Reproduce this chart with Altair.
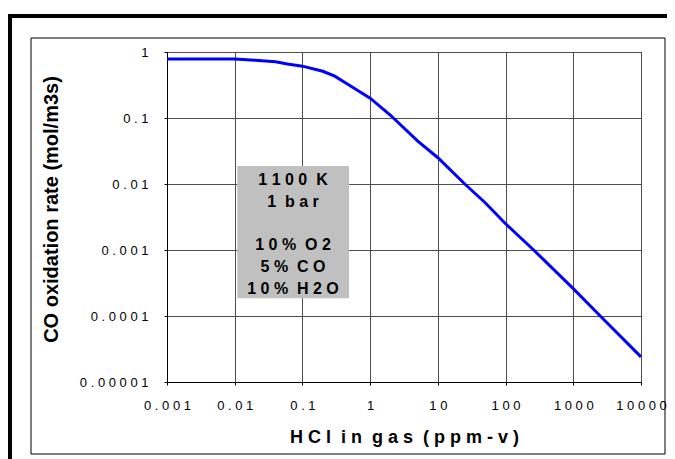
import json
import altair as alt
import pandas as pd

# ---- data ----
hcl_ppm = [0.001, 0.005, 0.01, 0.02, 0.04, 0.06, 0.1, 0.2, 0.3, 0.5, 1, 2, 5, 10,
           25, 50, 100, 260, 1000, 2500, 10000]
co_rate = [0.78, 0.78, 0.78, 0.75, 0.71, 0.66, 0.61, 0.51, 0.43, 0.31, 0.20, 0.11,
           0.045, 0.025, 0.01, 0.0052, 0.0025, 0.001, 0.00026, 0.0001, 0.000024]

x_ticks = [0.001, 0.01, 0.1, 1, 10, 100, 1000, 10000]
x_tick_labels = ["0.001", "0.01", "0.1", "1", "10", "100", "1000", "10000"]
y_ticks = [0.00001, 0.0001, 0.001, 0.01, 0.1, 1]
y_tick_labels = ["0.00001", "0.0001", "0.001", "0.01", "0.1", "1"]

box_lines = ["1100 K", "1 bar", "\u200b", "10% O2", "5% CO", "10% H2O"]
box_x = [0.0109, 0.488]
box_y = [0.01875, 0.000185]
box_text_x = 0.0726
box_text_y = 0.00966

x_title = "HCl in gas (ppm-v)"
y_title = "CO oxidation rate (mol/m3s)"

FONT = "Liberation Sans"


def spaced(s):
    return "\u00a0 ".join(" ".join(w) for w in s.split(" "))


line_df = pd.DataFrame({"hcl": hcl_ppm, "rate": co_rate})
box_df = pd.DataFrame({"x0": [box_x[0]], "x1": [box_x[1]], "y0": [box_y[0]], "y1": [box_y[1]]})
text_df = pd.DataFrame({"tx": [box_text_x], "ty": [box_text_y],
                        "label": ["\n".join(spaced(l) for l in box_lines)]})
one = pd.DataFrame({"a": [0]})

x_expr = json.dumps([spaced(l) for l in x_tick_labels], ensure_ascii=False) + \
    "[round(log(datum.value)/LN10)+3]"
y_expr = json.dumps([spaced(l) for l in y_tick_labels], ensure_ascii=False) + \
    "[round(log(datum.value)/LN10)+5]"

xscale = alt.Scale(type="log", domain=[0.001, 10000], nice=False)
yscale = alt.Scale(type="log", domain=[0.00001, 1], nice=False)

x_axis = alt.Axis(values=x_ticks, labelExpr=x_expr, labelFlush=False, labelOverlap=False,
                  labelFontSize=13, labelFont=FONT, labelColor="black",
                  labelBaseline="alphabetic", labelPadding=24, tickSize=3,
                  title=spaced(x_title), titleFont=FONT, titleFontSize=18,
                  titleFontWeight="bold", titleColor="black",
                  titleBaseline="alphabetic", titleY=60)
y_axis = alt.Axis(values=y_ticks, labelExpr=y_expr, labelFlush=False, labelOverlap=False,
                  labelFontSize=13, labelFont=FONT, labelColor="black",
                  labelPadding=16, tickSize=3,
                  title=y_title, titleFont=FONT, titleFontSize=20,
                  titleFontWeight="bold", titleColor="black",
                  titleBaseline="alphabetic", titleX=-110, titleY=157, titleAlign="center")

# frame decorations (chart-area borders)
top_bar = alt.Chart(one).mark_rule(color="black", strokeWidth=4).encode(
    x=alt.value(-159), x2=alt.value(500), y=alt.value(-36))
left_bar = alt.Chart(one).mark_rule(color="black", strokeWidth=4).encode(
    x=alt.value(-157), y=alt.value(-38), y2=alt.value(407))
inner = alt.Chart(one).mark_rect(fillOpacity=0, stroke="black", strokeWidth=1).encode(
    x=alt.value(-136), x2=alt.value(498), y=alt.value(-14), y2=alt.value(402))

line = alt.Chart(line_df).mark_line(color="#0000ff", strokeWidth=3).encode(
    x=alt.X("hcl:Q", scale=xscale, axis=x_axis),
    y=alt.Y("rate:Q", scale=yscale, axis=y_axis),
)

box = alt.Chart(box_df).mark_rect(color="#c0c0c0").encode(
    x=alt.X("x0:Q", scale=xscale, axis=x_axis),
    x2="x1:Q",
    y=alt.Y("y0:Q", scale=yscale, axis=y_axis),
    y2="y1:Q",
)

txt = alt.Chart(text_df).mark_text(
    font=FONT, fontSize=16, fontWeight="bold", color="black", align="center",
    baseline="alphabetic", lineBreak="\n", lineHeight=21.8
).encode(
    x=alt.X("tx:Q", scale=xscale, axis=x_axis),
    y=alt.Y("ty:Q", scale=yscale, axis=y_axis),
    text="label:N",
)

chart = alt.layer(top_bar, left_bar, inner, box, line, txt).properties(
    width=474, height=330,
    autosize=alt.AutoSizeParams(type="none"),
    padding={"left": 159, "top": 44, "right": 26, "bottom": 77},
    background="white",
).configure_view(
    stroke="black", strokeWidth=1
).configure_axis(
    gridColor="#4d4d4d", gridWidth=1, gridOpacity=1,
    domainColor="black", tickColor="black",
)

chart.save("out.html", embed_options={"renderer": "svg", "actions": False})
